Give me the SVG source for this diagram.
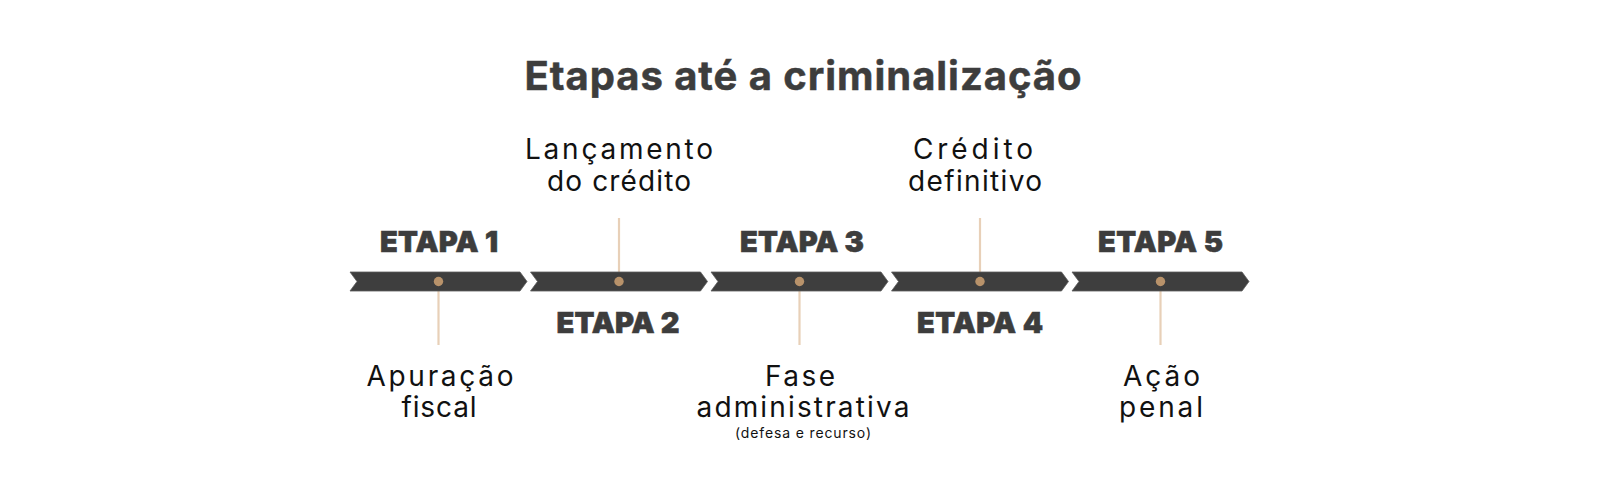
<svg xmlns="http://www.w3.org/2000/svg" width="1600" height="478" viewBox="0 0 1600 478">
  <style>
    .title { font-family: Inter, "Open Sans", "Liberation Sans", sans-serif; font-weight: 700; font-size: 40px; fill: #3d3d3d; stroke: #3d3d3d; stroke-width: 0.5; text-anchor: middle; }
    .etapa { font-family: Inter, "Liberation Sans", sans-serif; font-weight: 900; font-size: 29px; fill: #3d3d3d; stroke: #3d3d3d; stroke-width: 0.6; text-anchor: middle; }
    .lbl { font-family: Inter, "Open Sans", "Liberation Sans", sans-serif; font-weight: 400; font-size: 28px; fill: #111111; text-anchor: middle; }
    .small { font-family: Inter, "Open Sans", "Liberation Sans", sans-serif; font-weight: 400; font-size: 14px; fill: #111111; text-anchor: middle; }
    .seg { fill: #3e3e3e; stroke: #5c5c5c; stroke-width: 0.8; }
    .dot { fill: #b8926a; }
    .conn { stroke: #e8d0b8; stroke-width: 2.2; fill: none; }
  </style>
  <defs>
    <polygon id="segshape" points="0,272 170,272 177,281.5 170,291 0,291 7,281.5"/>
  </defs>

  <text class="title" x="803" y="90" textLength="557">Etapas até a criminalização</text>

  <g id="connectors">
    <line class="conn" x1="438.5" y1="281.5" x2="438.5" y2="345"/>
    <line class="conn" x1="619" y1="218" x2="619" y2="281.5"/>
    <line class="conn" x1="799.5" y1="281.5" x2="799.5" y2="345"/>
    <line class="conn" x1="980" y1="218" x2="980" y2="281.5"/>
    <line class="conn" x1="1160.5" y1="281.5" x2="1160.5" y2="345"/>
  </g>

  <g id="etapa1">
    <use href="#segshape" class="seg" x="350"/>
    <circle class="dot" cx="438.5" cy="281.5" r="4.7"/>
    <text class="etapa" x="439" y="252" textLength="118">ETAPA 1</text>
    <text class="lbl" x="440" y="386" textLength="147">Apuração</text>
    <text class="lbl" x="439" y="417" textLength="75">fiscal</text>
  </g>

  <g id="etapa2">
    <use href="#segshape" class="seg" x="530.5"/>
    <circle class="dot" cx="619" cy="281.5" r="4.7"/>
    <text class="etapa" x="618" y="333" textLength="123">ETAPA 2</text>
    <text class="lbl" x="619" y="159" textLength="188">Lançamento</text>
    <text class="lbl" x="619" y="191" textLength="144">do crédito</text>
  </g>

  <g id="etapa3">
    <use href="#segshape" class="seg" x="711"/>
    <circle class="dot" cx="799.5" cy="281.5" r="4.7"/>
    <text class="etapa" x="802" y="252" textLength="124">ETAPA 3</text>
    <text class="lbl" x="800" y="386" textLength="70">Fase</text>
    <text class="lbl" x="803" y="417" textLength="213">administrativa</text>
    <text class="small" x="803" y="438" textLength="136">(defesa e recurso)</text>
  </g>

  <g id="etapa4">
    <use href="#segshape" class="seg" x="891.5"/>
    <circle class="dot" cx="980" cy="281.5" r="4.7"/>
    <text class="etapa" x="980" y="333" textLength="126">ETAPA 4</text>
    <text class="lbl" x="973" y="159" textLength="120">Crédito</text>
    <text class="lbl" x="975" y="191" textLength="134">definitivo</text>
  </g>

  <g id="etapa5">
    <use href="#segshape" class="seg" x="1072"/>
    <circle class="dot" cx="1160.5" cy="281.5" r="4.7"/>
    <text class="etapa" x="1160.5" y="252" textLength="125">ETAPA 5</text>
    <text class="lbl" x="1161.5" y="386" textLength="77">Ação</text>
    <text class="lbl" x="1161" y="417" textLength="84">penal</text>
  </g>
</svg>
